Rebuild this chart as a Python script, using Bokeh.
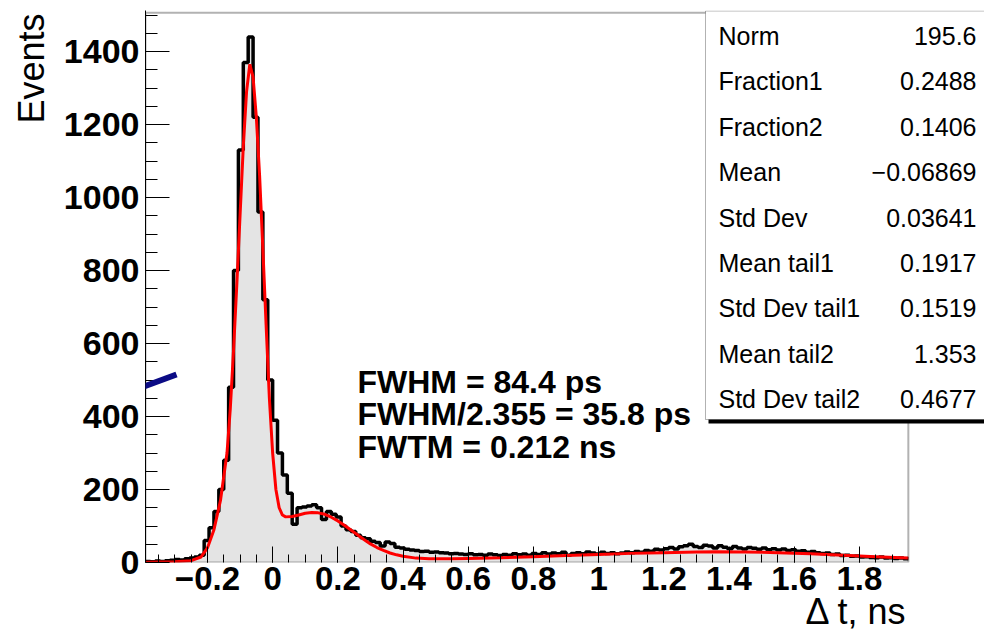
from bokeh.plotting import figure
from bokeh.models import Range1d, FixedTicker, Label, BoxAnnotation, Arrow, Title
from bokeh.embed import file_html
from bokeh.resources import INLINE

# ---------------- data ----------------
bin_lo = -0.39
bin_width = 0.015
counts = [
    3, 2, 4, 3, 5, 6, 8, 7, 10, 12, 15,
    20, 60, 95, 140, 200, 280, 480, 800, 1130, 1370, 1440, 1220, 960, 720, 500,
    390, 300, 240, 190, 105, 150, 152, 155, 158, 150, 118, 140, 132, 125, 100,
    90, 85, 75, 68, 65, 58, 55, 45, 56, 52, 42, 40, 36, 34, 33,
    30, 31, 28, 29, 27, 26, 24, 25, 23, 22, 24, 21, 22, 20, 23,
    21, 19, 22, 20, 24, 21, 23, 20, 25, 22, 27, 23, 26, 24, 28,
    20, 25, 27, 24, 29, 26, 23, 28, 25, 27, 24, 26, 29, 27, 30,
    28, 33, 31, 36, 34, 38, 41, 37, 43, 46, 50, 44, 41, 47, 45,
    40, 46, 42, 38, 44, 40, 37, 41, 39, 36, 40, 35, 38, 34, 37,
    33, 35, 31, 32, 28, 30, 27, 25, 26, 22, 23, 19, 20, 17, 18,
    15, 16, 14, 13, 15, 12, 13, 11, 12, 10,
]

fit_x = [-0.39, -0.30, -0.25, -0.22, -0.20, -0.18, -0.16, -0.14, -0.13, -0.12,
         -0.11, -0.10, -0.09, -0.08, -0.07, -0.06, -0.05, -0.04, -0.03, -0.02,
         -0.01, 0.00, 0.01, 0.02, 0.03, 0.04, 0.06, 0.08, 0.10, 0.12, 0.14,
         0.16, 0.18, 0.20, 0.22, 0.24, 0.26, 0.28, 0.30, 0.32, 0.34, 0.36,
         0.38, 0.40, 0.44, 0.48, 0.55, 0.60, 0.70, 0.80, 0.90, 1.00, 1.10,
         1.20, 1.30, 1.36, 1.45, 1.55, 1.65, 1.75, 1.85, 1.95]
fit_y = [1, 2, 5, 15, 40, 90, 170, 300, 420, 580,
         760, 950, 1140, 1290, 1365, 1330, 1220, 1060, 860, 650,
         450, 300, 200, 150, 130, 125, 126, 130, 135, 137, 136,
         132, 124, 114, 102, 89, 76, 63, 51, 41, 33, 26,
         21, 17, 12, 10, 10, 11, 13, 16, 19, 22, 25,
         27, 29, 29.5, 29, 27, 24, 20, 16, 12]

x_lo, x_hi = -0.39, 1.95
y_lo, y_hi = 0, 1506
x_major = [-0.2, 0.0, 0.2, 0.4, 0.6, 0.8, 1.0, 1.2, 1.4, 1.6, 1.8]
x_labels = ["\u22120.2", "0", "0.2", "0.4", "0.6", "0.8", "1", "1.2", "1.4", "1.6", "1.8"]
y_major = [0, 200, 400, 600, 800, 1000, 1200, 1400]

stat_names = ["Norm", "Fraction1", "Fraction2", "Mean", "Std Dev",
              "Mean tail1", "Std Dev tail1", "Mean tail2", "Std Dev tail2"]
stat_values = ["195.6", "0.2488", "0.1406", "\u22120.06869", "0.03641",
               "0.1917", "0.1519", "1.353", "0.4677"]

fit_text = ["FWHM = 84.4 ps", "FWHM/2.355 = 35.8 ps", "FWTM = 0.212 ns"]

# ---------------- figure ----------------
FONT = "Liberation Sans"
# frame spans canvas x 145..984 and y 10..562 (the drawn ROOT frame is a box inside it)
PX_PER_X = 326.0
PX_PER_Y = 0.365
p = figure(width=984, height=636, output_backend="svg", toolbar_location=None,
           x_range=Range1d(x_lo, x_lo + (984 - 145) / PX_PER_X),
           y_range=Range1d(y_lo, (562 - 10) / PX_PER_Y),
           min_border_left=145, min_border_right=0, min_border_top=10,
           min_border_bottom=74)
p.xgrid.visible = False
p.ygrid.visible = False
p.background_fill_color = "white"
p.border_fill_color = "white"
p.outline_line_color = None

edges = [bin_lo + bin_width * i for i in range(len(counts) + 1)]
steps_y = counts + [counts[-1]]
p.varea_step(x=edges, y1=[0] * len(edges), y2=steps_y, step_mode="after",
             fill_color="#e4e4e4")
p.step(x=edges, y=steps_y, mode="after", line_color="black", line_width=3.5)
p.line(fit_x, fit_y, line_color="#ff0000", line_width=3)

# ROOT frame
p.add_layout(BoxAnnotation(left=x_lo, right=x_hi, bottom=y_lo, top=y_hi,
                           fill_alpha=0, line_color="black", line_width=2))

# axes
minor_x = [round(-0.35 + 0.05 * k, 3) for k in range(46)]
p.xaxis.ticker = FixedTicker(ticks=x_major, minor_ticks=minor_x)
p.xaxis.major_label_overrides = {t: l for t, l in zip(x_major, x_labels)}
p.yaxis.ticker = FixedTicker(ticks=y_major, minor_ticks=list(range(0, 1501, 50)))
for ax in (p.xaxis[0], p.yaxis[0]):
    ax.major_label_text_font = FONT
    ax.major_label_text_font_style = "bold"
    ax.major_label_text_color = "black"
    ax.axis_line_color = "black"
    ax.major_tick_line_color = "black"
    ax.minor_tick_line_color = "black"
    ax.major_tick_out = 0
    ax.minor_tick_out = 0
p.xaxis.major_label_text_font_size = "33px"
p.yaxis.major_label_text_font_size = "34px"
p.xaxis.axis_line_color = None
p.xaxis.major_tick_in = 16
p.xaxis.minor_tick_in = 8
p.yaxis.major_tick_in = 24
p.yaxis.minor_tick_in = 12
p.xaxis.major_label_standoff = 4
p.yaxis.major_label_standoff = 6

# axis titles
p.add_layout(Title(text="Events", align="right", vertical_align="top",
                   text_font=FONT, text_font_size="36px",
                   text_font_style="normal", text_color="black",
                   standoff=14, offset=3), "left")
p.add_layout(Title(text="\u0394 t, ns", align="right", vertical_align="top",
                   text_font=FONT, text_font_size="36px",
                   text_font_style="normal", text_color="black",
                   standoff=-3, offset=77), "below")

# frame-relative screen coords helper (canvas x, canvas y from top)
FL, FB = 145, 562
def sx(cx):
    return cx - FL
def sy(cy):
    return FB - cy

# fit result text
for k, t in enumerate(fit_text):
    p.add_layout(Label(x=sx(357), y=sy(381 + 32.5 * k), x_units="screen",
                       y_units="screen", text=t, text_align="left",
                       text_baseline="middle", text_font=FONT,
                       text_font_style="bold", text_font_size="32px",
                       text_color="black"))

# stats box with shadow
p.add_layout(BoxAnnotation(left=sx(708), right=sx(1000), top=sy(14), bottom=sy(423),
                           left_units="screen", right_units="screen",
                           top_units="screen", bottom_units="screen",
                           fill_color="black", fill_alpha=1, line_color=None))
p.add_layout(BoxAnnotation(left=sx(705), right=sx(995), top=sy(10.5), bottom=sy(419),
                           left_units="screen", right_units="screen",
                           top_units="screen", bottom_units="screen",
                           fill_color="white", fill_alpha=1, line_color="black",
                           line_width=1))
for k, (n, v) in enumerate(zip(stat_names, stat_values)):
    cy = 35.5 + 45.4 * k
    p.add_layout(Label(x=sx(718), y=sy(cy), x_units="screen", y_units="screen",
                       text=n, text_align="left", text_baseline="middle",
                       text_font=FONT, text_font_size="25px", text_color="black"))
    p.add_layout(Label(x=sx(976), y=sy(cy), x_units="screen", y_units="screen",
                       text=v, text_align="right", text_baseline="middle",
                       text_font=FONT, text_font_size="25px", text_color="black"))

# annotation stroke entering the frame from the left
p.add_layout(Arrow(end=None, x_start=sx(-5), y_start=sy(441), x_end=sx(176),
                   y_end=sy(374), start_units="screen", end_units="screen",
                   line_color="#0b0b85", line_width=6))

open("out.html", "w").write(file_html(p, INLINE))
